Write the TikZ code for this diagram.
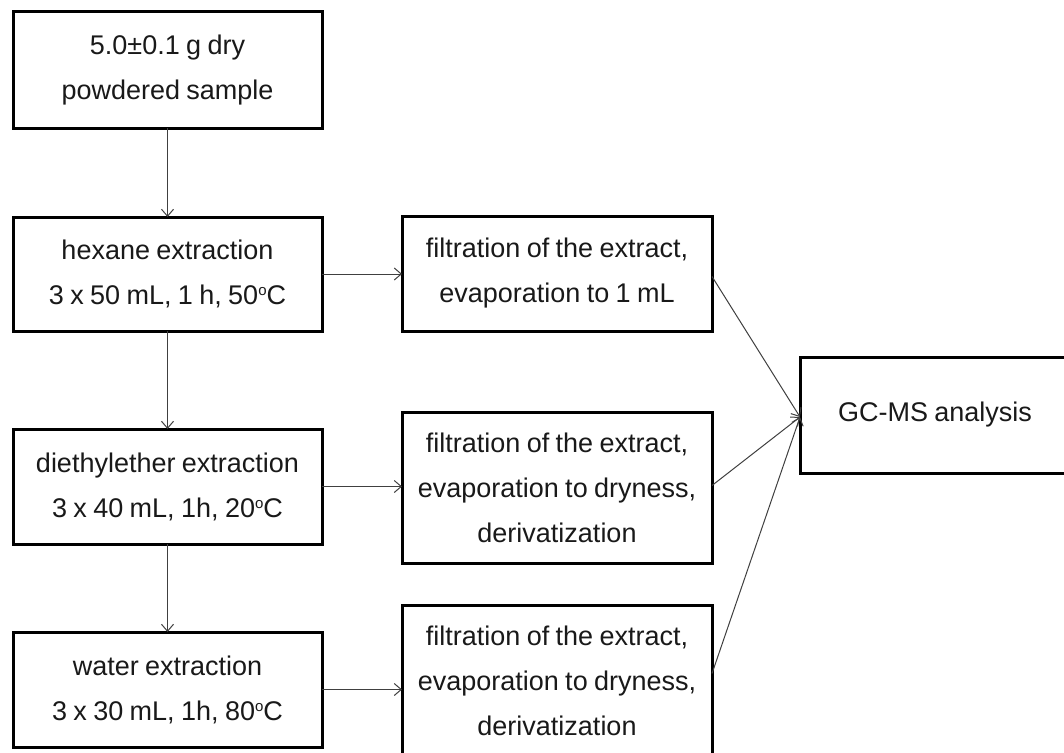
\documentclass[tikz,border=0pt]{standalone}
\usepackage{fontspec}
\setmainfont[WordSpace={0.85,0,0}]{Liberation Sans}
\usetikzlibrary{arrows.meta,calc}
\newcommand{\degsup}{\raisebox{9pt}{\fontsize{15}{15}\selectfont o}}
\begin{document}
\begin{tikzpicture}[x=1pt,y=-1pt,
  box/.style={draw=black,line width=3pt,rectangle,inner sep=0pt,outer sep=0pt,
    align=center,font=\fontsize{27}{45}\selectfont,text=black!90},
  conn/.style={draw=black!75,line width=1pt,-{Straight Barb[length=7pt,width=12pt,line width=1pt]}}]
\useasboundingbox[fill=white] (0,0) rectangle (1064,752);
\node[box,minimum width=309pt,minimum height=116pt] (s) at (167.5,70) {5.0±0.1 g dry\\powdered sample};
\node[box,minimum width=309pt,minimum height=114pt] (hex) at (167.5,274) {hexane extraction\\3 x 50 mL, 1 h, 50\degsup C};
\node[box,minimum width=309pt,minimum height=115pt] (die) at (167.5,486.5) {diethylether extraction\\3 x 40 mL, 1h, 20\degsup C};
\node[box,minimum width=309pt,minimum height=115pt] (wat) at (167.5,689.5) {water extraction\\3 x 30 mL, 1h, 80\degsup C};
\node[box,minimum width=310pt,minimum height=115pt] (f1) at (557,273.5) {filtration of the extract,\\evaporation to 1 mL};
\node[box,minimum width=310pt,minimum height=151pt] (f2) at (557,487.5) {filtration of the extract,\\evaporation to dryness,\\derivatization};
\node[box,minimum width=310pt,minimum height=151pt] (f3) at (557,680.5) {filtration of the extract,\\evaporation to dryness,\\derivatization};
\node[box,minimum width=270pt,minimum height=116pt] (gc) at (935,415) {GC-MS analysis};
\draw[conn] (s.south) -- (hex.north);
\draw[conn] (hex.south) -- (die.north);
\draw[conn] (die.south) -- (wat.north);
\draw[conn] (hex.east) -- (hex.east -| f1.west);
\draw[conn] (die.east) -- (die.east -| f2.west);
\draw[conn] (wat.east) -- (wat.east -| f3.west);
\draw[conn] ($(f1.east)+(0,3)$) -- ($(gc.west)+(0,2)$);
\draw[conn] ($(f2.east)+(0,-2)$) -- ($(gc.west)+(0,2)$);
\draw[conn] ($(f3.east)+(0,-7)$) -- ($(gc.west)+(0,2)$);
\end{tikzpicture}
\end{document}
